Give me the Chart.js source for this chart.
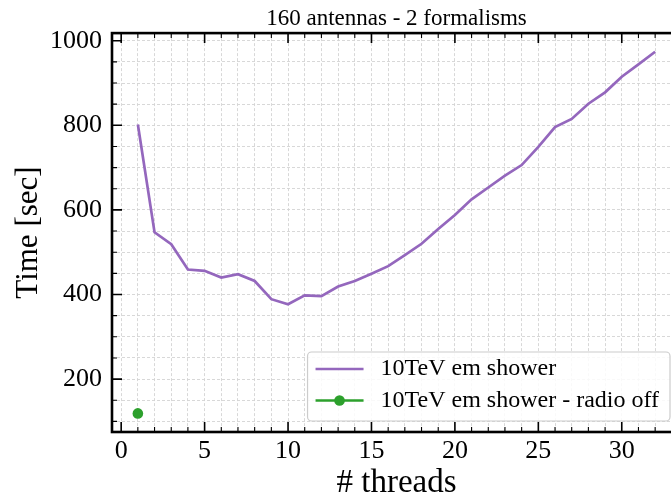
<!DOCTYPE html>
<html>
<head>
<meta charset="utf-8">
<script src="https://cdn.jsdelivr.net/npm/chart.js@4.4.1/dist/chart.umd.min.js"></script>
<style>
  html, body { margin: 0; padding: 0; overflow: hidden; background: #fff; }
  #wrap { width: 700px; height: 503px; }
</style>
</head>
<body>
<div id="wrap"><canvas id="chart" width="700" height="503"></canvas></div>
<script>
// data
const threads = [1, 2, 3, 4, 5, 6, 7, 8, 9, 10, 11, 12, 13, 14, 15, 16,
                 17, 18, 19, 20, 21, 22, 23, 24, 25, 26, 27, 28, 29, 30, 31, 32];
const timeRadioOn = [802, 547, 519, 459, 456, 440, 448, 432, 389, 377, 398, 396, 419, 432, 449, 467,
                     493, 520, 555, 588, 625, 653, 681, 706, 749, 796, 815, 851, 878, 915, 944, 974];
const threadsRadioOff = [1];
const timeRadioOff = [119];

const seriesNames = ["10TeV em shower", "10TeV em shower - radio off"];
const seriesColors = ["#9467bd", "#2ca02c"];
const chartTitle = "160 antennas - 2 formalisms";
const xTitle = "# threads";
const yTitle = "Time [sec]";
const xTickLabels = [0, 5, 10, 15, 20, 25, 30];
const yTickLabels = [200, 400, 600, 800, 1000];

const FONT = "'Liberation Serif', 'DejaVu Serif', serif";

// ticks every `step` inside the axis range (minor ones get no label)
function stepTicks(s, step) {
    let out = [];
    for (let v = Math.ceil(s.min / step) * step; v <= s.max; v += step) {
        out.push({value: v});
    }
    s.ticks = out;
}

// matplotlib-like frame: spines and inward ticks on all four sides, legend lower right
const mplFrame = {
    id: "mplFrame",
    afterDraw(chart) {
        let ctx = chart.ctx;
        let a = chart.chartArea;
        let xs = chart.scales.x;
        let ys = chart.scales.y;
        ctx.save();
        ctx.strokeStyle = "#000";
        xs.ticks.forEach(function(t) {
            let px = xs.getPixelForValue(t.value);
            let major = t.value % 5 === 0;
            let len = major ? 10 : 5;
            ctx.lineWidth = major ? 1.6 : 1.1;
            ctx.beginPath();
            ctx.moveTo(px, a.bottom); ctx.lineTo(px, a.bottom - len);
            ctx.moveTo(px, a.top); ctx.lineTo(px, a.top + len);
            ctx.stroke();
        });
        ys.ticks.forEach(function(t) {
            let py = ys.getPixelForValue(t.value);
            let major = t.value % 200 === 0;
            let len = major ? 10 : 5;
            ctx.lineWidth = major ? 1.6 : 1.1;
            ctx.beginPath();
            ctx.moveTo(a.left, py); ctx.lineTo(a.left + len, py);
            ctx.moveTo(a.right, py); ctx.lineTo(a.right - len, py);
            ctx.stroke();
        });
        ctx.lineWidth = 2.6;
        ctx.strokeRect(a.left, a.top, a.right - a.left, a.bottom - a.top);

        // legend
        ctx.font = "24px " + FONT;
        let textW = Math.max.apply(null, seriesNames.map(n => ctx.measureText(n).width));
        let boxW = 73 + textW + 11;
        let boxH = 69;
        let bx = a.right - 11 - boxW;
        let by = a.bottom - 11 - boxH;
        ctx.beginPath();
        ctx.roundRect(bx, by, boxW, boxH, 4);
        ctx.fillStyle = "rgba(255,255,255,0.85)";
        ctx.fill();
        ctx.lineWidth = 1.2;
        ctx.strokeStyle = "#cccccc";
        ctx.stroke();
        let rows = [by + 17, by + 48.5];
        seriesNames.forEach(function(name, i) {
            let ry = rows[i];
            ctx.strokeStyle = seriesColors[i];
            ctx.lineWidth = 2.7;
            ctx.beginPath();
            ctx.moveTo(bx + 8, ry); ctx.lineTo(bx + 56, ry);
            ctx.stroke();
            if (i === 1) {
                ctx.fillStyle = seriesColors[i];
                ctx.beginPath();
                ctx.arc(bx + 32, ry, 5.3, 0, Math.PI * 2);
                ctx.fill();
            }
            ctx.fillStyle = "#000";
            ctx.textBaseline = "middle";
            ctx.textAlign = "left";
            ctx.fillText(name, bx + 73, ry);
        });
        ctx.restore();
    }
};

let ctx = document.getElementById("chart").getContext("2d");
let lineData = threads.map((t, i) => ({x: t, y: timeRadioOn[i]}));
let offData = threadsRadioOff.map((t, i) => ({x: t, y: timeRadioOff[i]}));

let gridOpts = {color: "#d4d4d4", lineWidth: 0.9, drawTicks: false};
let borderOpts = {display: false, dash: [3, 2]};

let chart = new Chart(ctx, {
    type: "line",
    data: {
        datasets: [
            {
                label: seriesNames[0],
                data: lineData,
                borderColor: seriesColors[0],
                borderWidth: 2.7,
                pointRadius: 0,
                fill: false,
                tension: 0
            },
            {
                label: seriesNames[1],
                data: offData,
                borderColor: seriesColors[1],
                backgroundColor: seriesColors[1],
                borderWidth: 2.7,
                pointRadius: 5.3,
                pointBorderWidth: 0,
                showLine: false
            }
        ]
    },
    options: {
        responsive: false,
        animation: false,
        layout: {padding: {left: 0, right: 19, top: 0, bottom: 0}},
        plugins: {
            legend: {display: false},
            tooltip: {enabled: false},
            title: {
                display: true,
                text: chartTitle,
                fullSize: false,
                color: "#000",
                font: {family: FONT, size: 23, weight: "normal"},
                padding: {top: 5, bottom: 0.5}
            }
        },
        scales: {
            x: {
                type: "linear",
                min: -0.55,
                max: 33.55,
                afterBuildTicks: s => stepTicks(s, 1),
                afterFit: function(s) { s.height = 71; },
                ticks: {
                    autoSkip: false,
                    maxRotation: 0,
                    color: "#000",
                    padding: 4,
                    font: {family: FONT, size: 26},
                    callback: v => xTickLabels.includes(v) ? String(v) : ""
                },
                grid: gridOpts,
                border: borderOpts,
                title: {
                    display: true,
                    text: xTitle,
                    color: "#000",
                    font: {family: FONT, size: 33},
                    padding: {top: 0, bottom: 0}
                }
            },
            y: {
                type: "linear",
                min: 75,
                max: 1018,
                afterBuildTicks: s => stepTicks(s, 50),
                afterFit: function(s) { s.width = 112; },
                ticks: {
                    autoSkip: false,
                    color: "#000",
                    padding: 10,
                    font: {family: FONT, size: 26},
                    callback: v => yTickLabels.includes(v) ? String(v) : ""
                },
                grid: gridOpts,
                border: borderOpts,
                title: {
                    display: true,
                    text: yTitle,
                    color: "#000",
                    font: {family: FONT, size: 31},
                    padding: {top: 10, bottom: 0}
                }
            }
        }
    },
    plugins: [mplFrame]
});
</script>
</body>
</html>
